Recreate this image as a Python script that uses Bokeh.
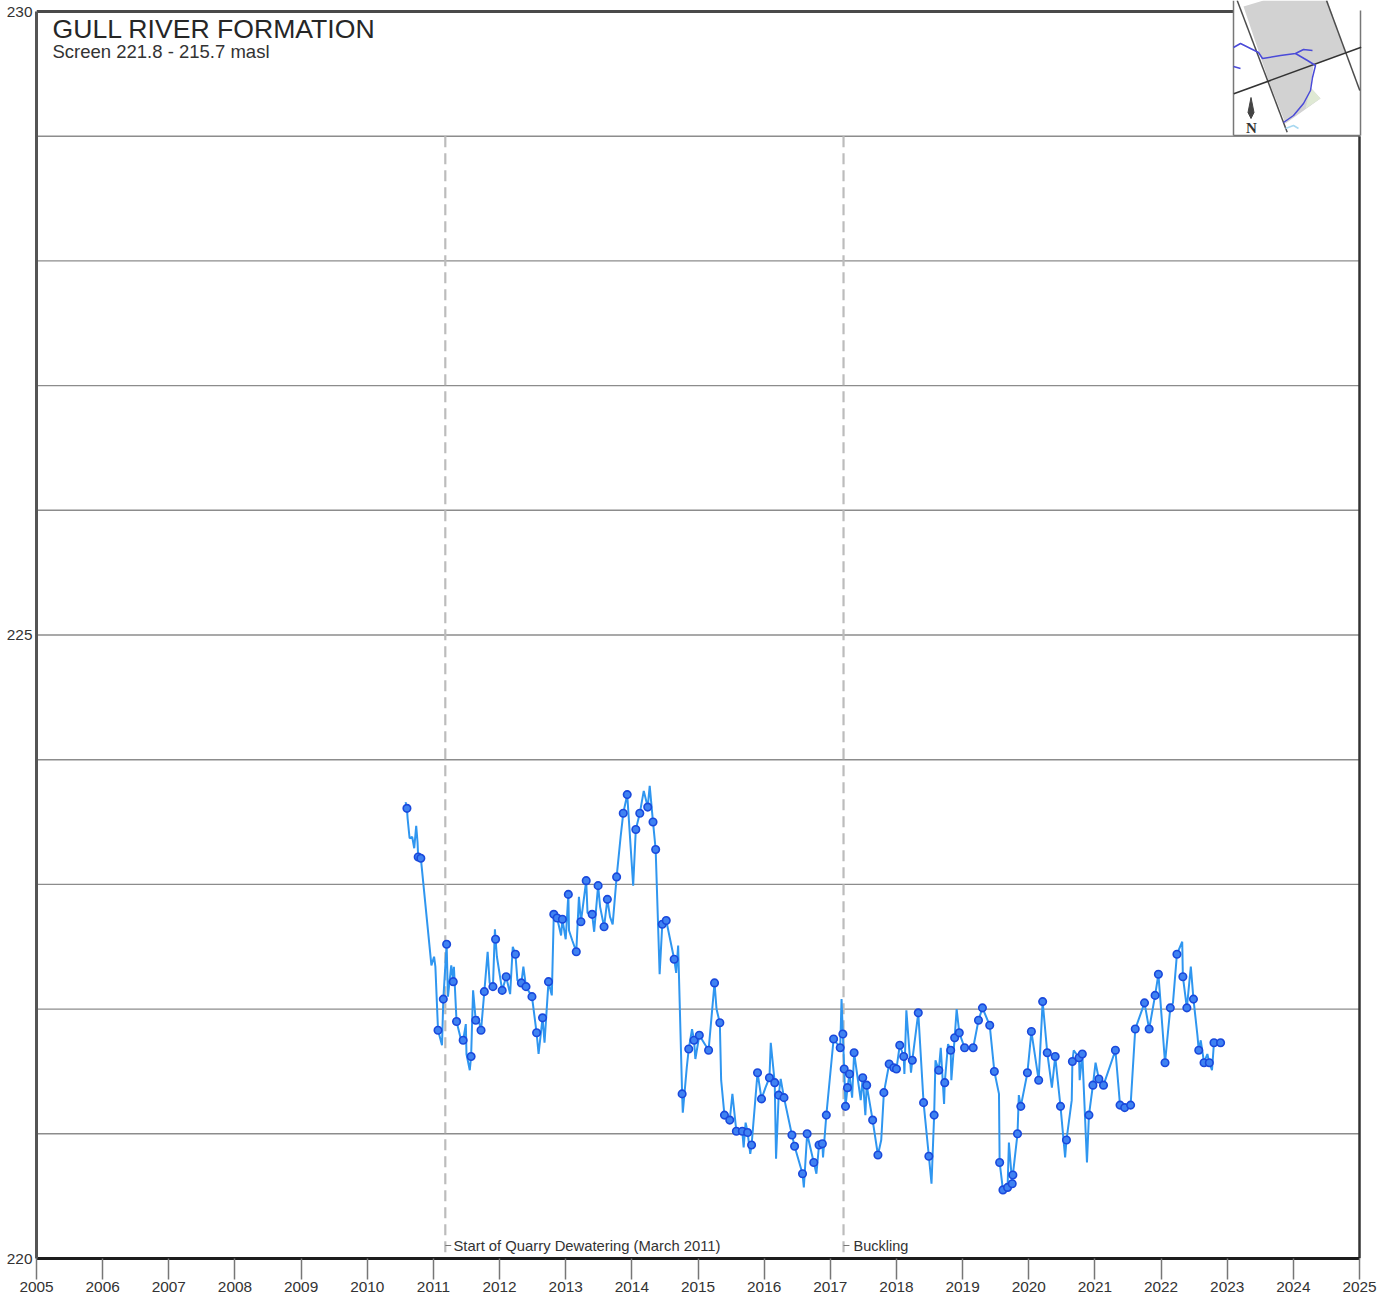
from bokeh.plotting import figure
from bokeh.models import Range1d, FixedTicker, ColumnDataSource
from bokeh.core.properties import value
from bokeh.embed import file_html
from bokeh.resources import INLINE

TITLE = "GULL RIVER FORMATION"
SUBTITLE = "Screen 221.8 - 215.7 masl"
NOTE_1 = "Start of Quarry Dewatering (March 2011)"
NOTE_2 = "Buckling"
EVENT_DATES = [2011.18, 2017.20]
GRID_LEVELS = [221, 222, 223, 224, 225, 226, 227, 228, 229]
Y_TICKS = [220, 225, 230]
X_TICKS = list(range(2005, 2026))

dates = [
 2010.58,2010.60,2010.61,2010.64,2010.68,2010.71,2010.74,2010.76,2010.77,2010.81,2010.97,2011.01,2011.03,2011.07,2011.13,
 2011.15,2011.20,2011.22,2011.27,2011.30,2011.31,2011.35,2011.41,2011.45,2011.49,2011.50,2011.55,2011.57,2011.60,2011.64,
 2011.67,2011.72,2011.77,2011.82,2011.85,2011.90,2011.93,2011.94,2011.96,2012.04,2012.10,2012.16,2012.20,2012.24,2012.27,
 2012.33,2012.36,2012.40,2012.49,2012.56,2012.59,2012.65,2012.68,2012.74,2012.79,2012.82,2012.87,2012.93,2012.95,2013.00,
 2013.04,2013.05,2013.10,2013.16,2013.20,2013.23,2013.31,2013.33,2013.40,2013.43,2013.49,2013.52,2013.58,2013.63,2013.67,
 2013.71,2013.77,2013.83,2013.87,2013.93,2014.02,2014.06,2014.12,2014.18,2014.24,2014.27,2014.32,2014.36,2014.42,2014.46,
 2014.52,2014.64,2014.67,2014.70,2014.76,2014.77,2014.83,2014.86,2014.91,2014.94,2014.96,2015.02,2015.16,2015.25,2015.28,
 2015.33,2015.35,2015.40,2015.48,2015.52,2015.58,2015.67,2015.69,2015.72,2015.75,2015.79,2015.81,2015.90,2015.96,2016.02,
 2016.08,2016.10,2016.16,2016.18,2016.22,2016.25,2016.30,2016.42,2016.46,2016.58,2016.60,2016.65,2016.75,2016.79,2016.83,
 2016.88,2016.89,2016.94,2017.05,2017.15,2017.17,2017.19,2017.21,2017.23,2017.26,2017.29,2017.33,2017.36,2017.46,2017.49,
 2017.53,2017.55,2017.64,2017.72,2017.77,2017.81,2017.89,2017.96,2018.00,2018.05,2018.11,2018.12,2018.15,2018.22,2018.24,
 2018.33,2018.41,2018.49,2018.53,2018.57,2018.59,2018.64,2018.67,2018.72,2018.73,2018.78,2018.82,2018.83,2018.88,2018.91,
 2018.95,2019.03,2019.16,2019.24,2019.30,2019.41,2019.48,2019.55,2019.56,2019.61,2019.68,2019.70,2019.75,2019.76,2019.83,
 2019.85,2019.88,2019.98,2020.04,2020.15,2020.21,2020.28,2020.35,2020.40,2020.48,2020.55,2020.57,2020.65,2020.66,2020.68,
 2020.76,2020.77,2020.81,2020.88,2020.91,2020.97,2021.01,2021.06,2021.13,2021.31,2021.38,2021.45,2021.54,2021.61,2021.75,
 2021.82,2021.91,2021.96,2021.99,2022.06,2022.14,2022.18,2022.24,2022.32,2022.33,2022.39,2022.45,2022.49,2022.55,2022.57,
 2022.60,2022.65,2022.70,2022.73,2022.77,2022.80,2022.90,
]
levels = [
 223.66,223.61,223.53,223.37,223.38,223.29,223.47,223.34,223.22,223.21,222.35,222.42,222.34,221.83,221.71,
 222.08,222.52,222.10,222.35,222.22,222.34,221.90,221.77,221.75,221.88,221.64,221.51,221.62,222.15,221.91,
 221.94,221.83,222.14,222.46,222.21,222.18,222.64,222.56,222.42,222.15,222.26,222.12,222.50,222.44,222.23,
 222.21,222.34,222.18,222.10,221.81,221.64,221.93,221.73,222.22,222.11,222.76,222.73,222.59,222.72,222.56,
 222.92,222.63,222.55,222.46,222.90,222.70,223.03,222.77,222.76,222.62,222.99,222.82,222.66,222.88,222.74,
 222.68,223.06,223.38,223.57,223.72,222.99,223.44,223.57,223.75,223.62,223.79,223.50,223.28,222.28,222.68,
 222.71,222.40,222.29,222.51,221.32,221.17,221.53,221.68,221.84,221.75,221.60,221.79,221.67,222.21,222.00,
 221.89,221.43,221.15,221.11,221.32,221.02,221.02,220.89,221.09,221.01,220.84,220.91,221.49,221.28,221.37,
 221.45,221.73,221.41,220.80,221.31,221.44,221.29,220.99,220.90,220.68,220.57,221.00,220.77,220.68,220.91,
 220.92,220.81,221.15,221.76,221.69,222.08,221.80,221.52,221.22,221.37,221.48,221.29,221.65,221.27,221.45,
 221.15,221.39,221.11,220.83,220.95,221.33,221.56,221.53,221.52,221.71,221.62,221.48,221.99,221.49,221.59,
 221.97,221.25,220.82,220.60,221.15,221.59,221.51,221.69,221.24,221.41,221.72,221.67,221.43,221.77,222.00,
 221.81,221.69,221.69,221.91,222.01,221.87,221.50,221.32,220.77,220.55,220.57,220.93,220.60,220.67,221.00,
 221.31,221.22,221.49,221.82,221.43,222.06,221.65,221.37,221.62,221.22,220.81,220.95,221.27,221.58,221.67,
 221.61,221.43,221.64,220.77,221.15,221.39,221.57,221.44,221.39,221.67,221.23,221.21,221.23,221.84,222.05,
 221.84,222.11,222.28,222.07,221.57,222.01,222.05,222.44,222.54,222.26,222.01,222.34,222.08,221.79,221.67,
 221.75,221.57,221.64,221.57,221.51,221.73,221.73,
]
manual_dates = [
 2010.60,2010.77,2010.81,2011.07,2011.15,2011.20,2011.30,2011.35,2011.45,2011.57,2011.64,2011.72,2011.77,2011.90,2011.94,
 2012.04,2012.10,2012.24,2012.33,2012.40,2012.49,2012.56,2012.65,2012.74,2012.82,2012.87,2012.95,2013.04,2013.16,2013.23,
 2013.31,2013.40,2013.49,2013.58,2013.63,2013.77,2013.87,2013.93,2014.06,2014.12,2014.24,2014.32,2014.36,2014.46,2014.52,
 2014.64,2014.76,2014.86,2014.94,2015.02,2015.16,2015.25,2015.33,2015.40,2015.48,2015.58,2015.67,2015.75,2015.81,2015.90,
 2015.96,2016.08,2016.16,2016.22,2016.30,2016.42,2016.46,2016.58,2016.65,2016.75,2016.83,2016.88,2016.94,2017.05,2017.15,
 2017.19,2017.21,2017.23,2017.26,2017.29,2017.36,2017.49,2017.55,2017.64,2017.72,2017.81,2017.89,2017.96,2018.00,2018.05,
 2018.11,2018.24,2018.33,2018.41,2018.49,2018.57,2018.64,2018.73,2018.82,2018.88,2018.95,2019.03,2019.16,2019.24,2019.30,
 2019.41,2019.48,2019.56,2019.61,2019.68,2019.75,2019.76,2019.83,2019.88,2019.98,2020.04,2020.15,2020.21,2020.28,2020.40,
 2020.48,2020.57,2020.66,2020.76,2020.81,2020.91,2020.97,2021.06,2021.13,2021.31,2021.38,2021.45,2021.54,2021.61,2021.75,
 2021.82,2021.91,2021.96,2022.06,2022.14,2022.24,2022.33,2022.39,2022.49,2022.57,2022.65,2022.73,2022.80,2022.90,
]
lookup = dict(zip(dates, levels))
manual_levels = [lookup[d] for d in manual_dates]


def X(px):
    return 2005 + (px - 36) / 66.15


def Y(py):
    return 220 + (1258 - py) / 124.7


FONT = value("Liberation Sans")

p = figure(width=1380, height=1296, output_backend="svg", toolbar_location=None,
           x_range=Range1d(2005, X(1366)), y_range=Range1d(220, Y(0)),
           min_border_left=36, min_border_right=14, min_border_top=0, min_border_bottom=38,
           background_fill_color="white", border_fill_color="white", outline_line_color=None,
           margin=(0, 0, 0, 0))

p.xaxis.ticker = FixedTicker(ticks=X_TICKS)
p.xaxis.bounds = (2005, 2025)
p.xaxis.axis_line_color = "#1c1c1c"
p.xaxis.axis_line_width = 3
p.xaxis.major_tick_line_color = "#777777"
p.xaxis.major_tick_line_width = 1.5
p.xaxis.major_tick_out = 21
p.xaxis.major_tick_in = 0
p.xaxis.minor_tick_line_color = None
p.xaxis.major_label_standoff = 2
p.xaxis.major_label_text_font = "Liberation Sans"
p.xaxis.major_label_text_font_size = "15.4px"
p.xaxis.major_label_text_color = "#333333"

p.yaxis.ticker = FixedTicker(ticks=Y_TICKS)
p.yaxis.bounds = (220, 230)
p.yaxis.axis_line_color = "#555555"
p.yaxis.axis_line_width = 3
p.yaxis.major_tick_line_color = None
p.yaxis.major_tick_out = 0
p.yaxis.major_tick_in = 0
p.yaxis.minor_tick_line_color = None
p.yaxis.major_label_standoff = 4
p.yaxis.major_label_text_font = "Liberation Sans"
p.yaxis.major_label_text_font_size = "15.4px"
p.yaxis.major_label_text_color = "#333333"

p.xgrid.visible = False
p.ygrid.visible = False
p.segment([2005] * len(GRID_LEVELS), GRID_LEVELS, [2025] * len(GRID_LEVELS), GRID_LEVELS,
          line_color="#8c8c8c", line_width=1.4)

p.line([2005, X(1233)], [230, 230], line_color="#4a4a4a", line_width=3)
p.line([2025, 2025], [220, 229], line_color="#333333", line_width=2.5)

p.patch([X(v) for v in (1243, 1263, 1327, 1345, 1313, 1310, 1320, 1285, 1268)],
        [Y(v) for v in (6, 0, 0, 52, 65, 87, 98, 123, 80)], fill_color="#d2d2d2", line_color=None)
p.patch([X(v) for v in (1310, 1320, 1305)], [Y(v) for v in (87, 98, 108)], fill_color="#dfe9d4", line_color=None)
for xs, ys, col, w in [
    ((1233, 1233), (0, 135), "#777777", 1.5),
    ((1360, 1360), (10, 135), "#777777", 1.5),
    ((1233, 1360), (135, 135), "#777777", 1.5),
    ((1236.7, 1286.7), (0, 131.7), "#4d4d4d", 1.5),
    ((1326, 1359.3), (0, 90), "#4d4d4d", 1.5),
    ((1233.3, 1360.7), (93.3, 46.7), "#333333", 1.5),
    ((1233, 1240, 1250, 1258, 1262, 1280, 1295, 1303, 1312),
     (47, 43, 48, 52, 58, 55, 53, 49, 50), "#4a4ad8", 1.5),
    ((1295, 1307, 1315, 1312, 1310, 1303, 1293, 1283),
     (53, 60, 65, 77, 90, 103, 115, 122), "#4a4ad8", 1.5),
    ((1233, 1240), (66, 68), "#4a4ad8", 1.5),
    ((1285, 1293, 1298), (128, 125, 128), "#a8d8f0", 1.5),
]:
    p.line([X(v) for v in xs], [Y(v) for v in ys], line_color=col, line_width=w)
p.patch([X(v) for v in (1250.5, 1253.5, 1250.5, 1247.5)], [Y(v) for v in (97, 112, 118, 112)],
        fill_color="#444444", line_color="#444444")
p.text([X(1251)], [Y(127)], text=["N"], text_font=value("Liberation Serif"), text_font_style="bold",
       text_font_size="15px", text_align="center", text_baseline="middle", text_color="#333333")

for d in EVENT_DATES:
    p.line([d, d], [229, 220], line_color="#bcbcbc", line_width=2.2, line_dash="11 6")
    p.line([d, d + 0.09], [Y(1245), Y(1245)], line_color="#777777", line_width=1)

src = ColumnDataSource(dict(x=dates, y=levels))
p.line("x", "y", source=src, line_color="#2f96f0", line_width=2)
p.scatter(manual_dates, manual_levels, size=7.5, marker="circle", fill_color="#3f82f2",
          line_color="#1a49dc", line_width=1.6)

p.text([X(52)], [Y(28)], text=[TITLE], text_font=FONT, text_font_size="26.6px", text_align="left",
       text_baseline="middle", text_color="#262626")
p.text([X(52)], [Y(51)], text=[SUBTITLE], text_font=FONT, text_font_size="18.5px", text_align="left",
       text_baseline="middle", text_color="#333333")
p.text([X(453)], [Y(1245)], text=[NOTE_1], text_font=FONT, text_font_size="14.8px", text_align="left",
       text_baseline="middle", text_color="#333333")
p.text([X(853)], [Y(1245)], text=[NOTE_2], text_font=FONT, text_font_size="14.5px", text_align="left",
       text_baseline="middle", text_color="#333333")

open("out.html", "w").write(file_html(p, INLINE))
